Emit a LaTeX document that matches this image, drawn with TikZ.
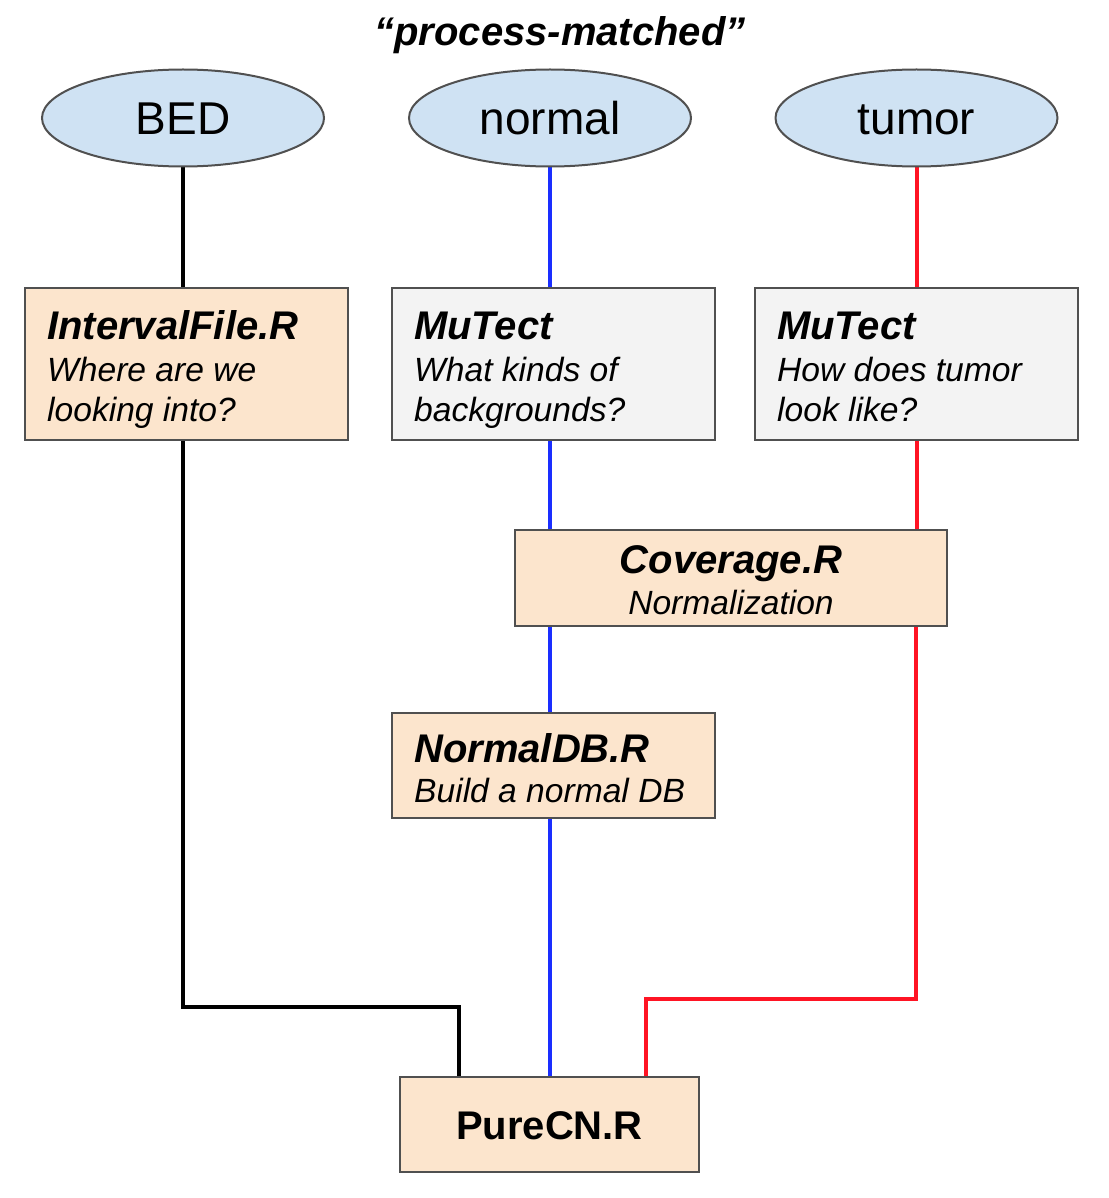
\documentclass[tikz,border=0pt]{standalone}
\usepackage{fontspec}
\setmainfont{Liberation Sans}
\usetikzlibrary{shapes.geometric,backgrounds}
\definecolor{ellfill}{HTML}{CFE2F3}
\definecolor{boxfill}{HTML}{FCE5CD}
\definecolor{grayfill}{HTML}{F3F3F3}
\definecolor{bordercol}{HTML}{505050}
\definecolor{blueline}{HTML}{1A2EFF}
\definecolor{redline}{HTML}{FF1424}
\tikzset{
  ell/.style={ellipse, draw=bordercol, line width=2pt, fill=ellfill, minimum width=282pt, minimum height=97pt, inner sep=0pt},
  procbox/.style={rectangle, draw=bordercol, line width=2pt, fill=boxfill, inner sep=0pt},
  graybox/.style={rectangle, draw=bordercol, line width=2pt, fill=grayfill, inner sep=0pt},
  ttl/.style={inner sep=0pt, font=\fontsize{40}{48}\selectfont\bfseries\itshape},
  sub/.style={inner sep=0pt, font=\fontsize{33.6}{40}\selectfont\itshape},
  elltxt/.style={inner sep=0pt, font=\fontsize{46}{55}\selectfont},
  conn/.style={line width=4pt},
}
\begin{document}
\begin{tikzpicture}[x=1pt,y=-1pt]
\useasboundingbox (0,0) rectangle (1108,1198);

% title
\node[ttl, anchor=base] (title) at (560,46) {“process-matched”};

% ellipses
\node[ell] (bed) at (183,118) {};
\node[ell] (normal) at (550,118) {};
\node[ell] (tumor) at (916.5,118) {};
\node[elltxt, anchor=base] (bedt) at (183,135) {BED};
\node[elltxt, anchor=base] (normalt) at (550,135) {normal};
\node[elltxt, anchor=base] (tumort) at (916.5,135) {tumor};

% boxes
\node[procbox, minimum width=323pt, minimum height=152pt] (interval) at (186.5,364) {};
\node[graybox, minimum width=323pt, minimum height=152pt] (mutn) at (553.5,364) {};
\node[graybox, minimum width=323pt, minimum height=152pt] (mutt) at (916.5,364) {};
\node[procbox, minimum width=432pt, minimum height=96pt] (cov) at (731,578) {};
\node[procbox, minimum width=323pt, minimum height=105pt] (ndb) at (553.5,765.5) {};
\node[procbox, minimum width=299pt, minimum height=95pt] (pure) at (549.5,1124.5) {};

% connector junctions
\coordinate (bk1) at (183,1007);
\coordinate (bk2) at (459,1007);
\coordinate (rd1) at (916,999);
\coordinate (rd2) at (646,999);

\begin{scope}[on background layer]
\fill[white] (0,0) rectangle (1108,1198);
% black
\draw[conn, black] (bed.south) -- (bed.south |- interval.north);
\draw[conn, black] (interval.south -| bed.south) -- (bk1) -- (bk2) -- (bk2 |- pure.north);
% blue
\draw[conn, blueline] (normal.south) -- (normal.south |- mutn.north);
\draw[conn, blueline] (mutn.south -| normal.south) -- (normal.south |- cov.north);
\draw[conn, blueline] (cov.south -| normal.south) -- (normal.south |- ndb.north);
\draw[conn, blueline] (ndb.south -| normal.south) -- (normal.south |- pure.north);
% red
\draw[conn, redline] (tumor.south) -- (tumor.south |- mutt.north);
\draw[conn, redline] (mutt.south -| tumor.south) -- (tumor.south |- cov.north);
\draw[conn, redline] (cov.south -| rd1) -- (rd1) -- (rd2) -- (rd2 |- pure.north);
\end{scope}

% box texts
\node[ttl, anchor=base west] (t1a) at (47,339) {IntervalFile.R};
\node[sub, anchor=base west] (t1b) at (47,381) {Where are we};
\node[sub, anchor=base west] (t1c) at (47,421) {looking into?};

\node[ttl, anchor=base west] (t2a) at (414,339) {MuTect};
\node[sub, anchor=base west] (t2b) at (414,381) {What kinds of};
\node[sub, anchor=base west] (t2c) at (414,421) {backgrounds?};

\node[ttl, anchor=base west] (t3a) at (777,339) {MuTect};
\node[sub, anchor=base west] (t3b) at (777,381) {How does tumor};
\node[sub, anchor=base west] (t3c) at (777,421) {look like?};

\node[ttl, anchor=base] (t4a) at (731,573) {Coverage.R};
\node[sub, anchor=base] (t4b) at (731,614) {Normalization};

\node[ttl, anchor=base west] (t5a) at (414,762) {NormalDB.R};
\node[sub, anchor=base west] (t5b) at (414,802) {Build a normal DB};

\node[inner sep=0pt, font=\fontsize{40}{48}\selectfont\bfseries, anchor=base] (t6) at (549.5,1139) {PureCN.R};
\end{tikzpicture}
\end{document}
